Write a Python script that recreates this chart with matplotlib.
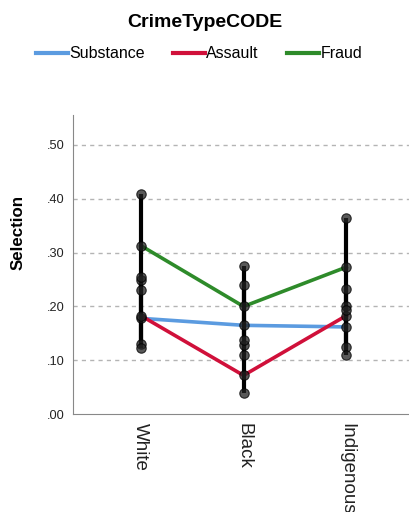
import matplotlib.pyplot as plt
import numpy as np

plt.rcParams['font.family'] = ['Liberation Sans', 'DejaVu Sans']

groups = ['White', 'Black', 'Indigenous']
series = ['Substance', 'Assault', 'Fraud']
colors = ['#5b9be0', '#d0103a', '#2e8b2a']

# means and confidence limits, one list per series (White, Black, Indigenous)
substance_mean = [0.178, 0.165, 0.162]
substance_lo = [0.131, 0.109, 0.125]
substance_hi = [0.250, 0.240, 0.200]

assault_mean = [0.183, 0.072, 0.183]
assault_lo = [0.122, 0.039, 0.109]
assault_hi = [0.254, 0.128, 0.233]

fraud_mean = [0.313, 0.200, 0.273]
fraud_lo = [0.231, 0.138, 0.193]
fraud_hi = [0.409, 0.276, 0.365]

means = [substance_mean, assault_mean, fraud_mean]
lows = [substance_lo, assault_lo, fraud_lo]
highs = [substance_hi, assault_hi, fraud_hi]

fig = plt.figure(figsize=(4.1, 5.12), dpi=100)
ax = fig.add_axes([0.178, 0.191, 0.822, 0.584])

x = np.arange(len(groups))

handles = []
for name, c, m in zip(series, colors, means):
    h, = ax.plot(x, m, color=c, lw=2.6, label=name, zorder=2)
    handles.append(h)

for m, lo, hi in zip(means, lows, highs):
    m = np.array(m)
    lo = np.array(lo)
    hi = np.array(hi)
    ax.errorbar(x, m, yerr=[m - lo, hi - m], fmt='none', ecolor='black',
                elinewidth=3.0, capsize=0, zorder=3)
    for arr in (m, lo, hi):
        ax.scatter(x, arr, s=46, color='#222222', alpha=0.75,
                   edgecolors='black', linewidths=0.8, zorder=4)

ax.set_xlim(-0.66, 2.62)
ax.set_ylim(0, 0.555)
ax.set_yticks([0, 0.1, 0.2, 0.3, 0.4, 0.5])
ax.set_yticklabels(['.00', '.10', '.20', '.30', '.40', '.50'], fontsize=9.2,
                   color='#222222')
ax.set_xticks(x)
ax.set_xticklabels(groups, rotation=-90, fontsize=13.5, color='#222222')
ax.tick_params(length=0, pad=6)

for yv in [0.1, 0.2, 0.3, 0.4, 0.5]:
    ax.axhline(yv, color='#b4b4b4', lw=1.0, ls=(0, (3, 3)), zorder=1)

ax.spines['top'].set_visible(False)
ax.spines['right'].set_visible(False)
ax.spines['left'].set_color('#888888')
ax.spines['bottom'].set_color('#888888')

fig.text(0.045, 0.545, 'Selection', rotation=90, fontsize=12.2,
         fontweight='bold', ha='center', va='center')

fig.text(0.5, 0.957, 'CrimeTypeCODE', fontsize=14, fontweight='bold',
         ha='center', va='center')
leg = fig.legend(handles=handles, loc='center', bbox_to_anchor=(0.485, 0.895),
                 ncol=3, frameon=False, fontsize=11.5,
                 handlelength=2.0, handletextpad=0.1, columnspacing=1.75,
                 borderpad=0, borderaxespad=0)
for line in leg.get_lines():
    line.set_linewidth(3)

fig.savefig('out.png', dpi=100)
